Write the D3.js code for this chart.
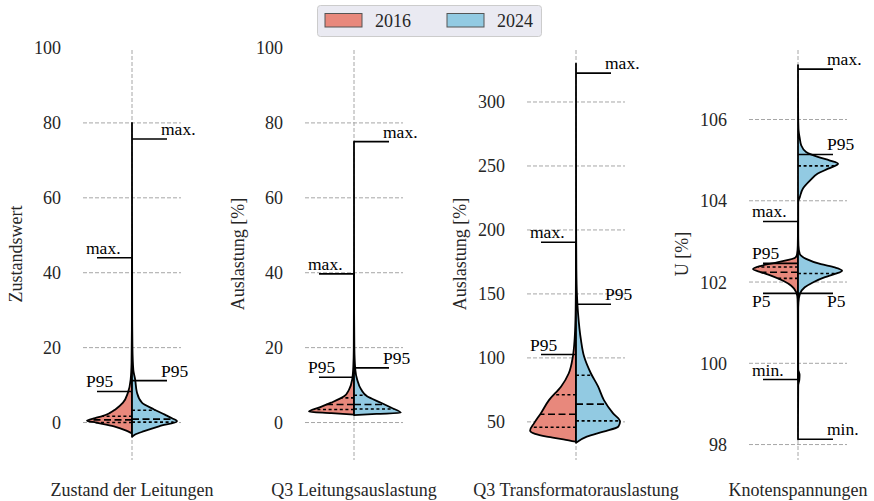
<!DOCTYPE html>
<html><head><meta charset="utf-8">
<script src="https://cdn.jsdelivr.net/npm/d3@7"></script>
<style>
body{margin:0;background:#fff}
svg{display:block}
text{font-family:"Liberation Serif","Times New Roman",serif}
</style>
</head><body>
<svg id="chart" width="874" height="501"></svg>
<script>
// ---------------- data ----------------
const categories = ["Zustand der Leitungen", "Q3 Leitungsauslastung", "Q3 Transformatorauslastung", "Knotenspannungen"];
const yLabels = ["Zustandswert", "Auslastung [%]", "Auslastung [%]", "U [%]"];
const years = ["2016", "2024"];
const yTicks = [[0,20,40,60,80,100],[0,20,40,60,80,100],[50,100,150,200,250,300],[98,100,102,104,106]];
const gridTicks = [[0,20,40,60,80],[0,20,40,60,80],[50,100,150,200,250,300],[98,100,102,104,106]];
const yDomains = [[-10,100],[-10,100],[20.2,342.2],[97.62,107.76]];

// density profiles: [value, relative density]
const density2016 = [
  [[44,0],[25,0.003],[16,0.01],[11.5,0.03],[8,0.09],[5.3,0.2],[3.5,0.37],[2.5,0.5],[1.7,0.66],[1.2,0.82],[0.5,1.0],[0.0,0.8],[-1.0,0.4],[-2.3,0.1],[-2.9,0]],
  [[39.7,0],[20,0.005],[15,0.015],[11.5,0.04],[8.8,0.11],[7,0.22],[5.3,0.51],[4,0.78],[2.9,1.0],[2.5,0.5],[2.1,0]],
  [[190.4,0],[150,0.004],[130,0.012],[115,0.03],[101,0.07],[88,0.16],[77.7,0.33],[67,0.6],[56.8,0.78],[49,0.93],[43.2,1.02],[40.6,0.91],[38.5,0.65],[36.4,0.28],[34.5,0]],
  [[103.49,0],[102.9,0.005],[102.69,0.02],[102.6,0.06],[102.49,0.44],[102.40,0.82],[102.32,1.0],[102.24,0.82],[102.16,0.6],[102.03,0.33],[101.91,0.15],[101.75,0.04],[101.58,0.01],[101.3,0.005],[99.6,0]]
];
const density2024 = [
  [[80,0],[30,0.004],[20,0.01],[14,0.03],[11.5,0.07],[8,0.11],[5.3,0.22],[3.5,0.49],[2.1,0.73],[1.2,0.88],[0.35,1.0],[-1,0.6],[-2.3,0.27],[-3.2,0.07],[-3.8,0]],
  [[75,0],[30,0.002],[20,0.008],[14,0.03],[11.5,0.07],[8.8,0.16],[7,0.29],[5.3,0.6],[4,0.82],[2.6,1.04],[2.3,0.5],[2.0,0]],
  [[330,0],[200,0.003],[170,0.008],[150,0.02],[135,0.045],[114,0.11],[101,0.18],[88,0.33],[77.7,0.49],[67,0.62],[56.8,0.82],[50.2,0.98],[46.3,0.94],[42.4,0.61],[38.5,0.24],[33.7,0]],
  [[107.34,0],[106.2,0.003],[105.78,0.01],[105.53,0.04],[105.37,0.07],[105.2,0.18],[105.08,0.44],[104.99,0.71],[104.91,0.89],[104.79,0.67],[104.67,0.44],[104.5,0.27],[104.3,0.11],[104.09,0.04],[103.97,0.005],[103.2,0.005],[102.9,0.01],[102.69,0.04],[102.57,0.18],[102.44,0.51],[102.36,0.82],[102.28,0.98],[102.2,0.82],[102.12,0.6],[101.99,0.33],[101.87,0.15],[101.7,0.04],[101.5,0.01],[101.3,0.005],[99.85,0.005],[99.72,0.035],[99.6,0.03],[99.45,0.005],[98.13,0]]
];
// quartiles [Q1, median, Q3]
const quartiles2016 = [[0.0,0.7,1.7],[3.5,4.8,6.6],[45.8,56,71.2],[102.09,102.24,102.37]];
const quartiles2024 = [[0.1,0.9,3.3],[3.6,4.8,7.3],[50.8,63.9,86.4],[102.21,103.5,104.86]];
// annotations [label, value]
const marks2016 = [
  [["max.",44],["P95",8.3]],
  [["max.",39.7],["P95",12.1]],
  [["max.",190.4],["P95",102.6]],
  [["max.",103.49],["P95",102.46],["P5",101.72],["min.",99.6]]
];
const marks2024 = [
  [["max.",75.7],["P95",11.2]],
  [["max.",75],["P95",14.6]],
  [["max.",322.6],["P95",141.9]],
  [["max.",107.24],["P95",105.14],["P5",101.72],["min.",98.13]]
];
const colors = ["#E8887C", "#92CAE2"];

// ---------------- drawing ----------------
const svg = d3.select("#chart");
const yTop = 48, yBottom = 460, halfAxis = 49;
const xCenter = d3.scalePoint().domain(categories).range([132, 798]);
const wScale = d3.scaleLinear().domain([0, 1]).range([0, 45]);
const gridColor = "#a6a6a6";
const textColor = "#262626";

function densAt(profile, v) {
  const p = profile.slice().sort((a, b) => a[0] - b[0]);
  if (v <= p[0][0] || v >= p[p.length - 1][0]) return 0;
  for (let i = 1; i < p.length; i++) {
    if (v <= p[i][0]) {
      const t = (v - p[i - 1][0]) / (p[i][0] - p[i - 1][0]);
      return p[i - 1][1] + t * (p[i][1] - p[i - 1][1]);
    }
  }
  return 0;
}

categories.forEach((cat, i) => {
  const cx = xCenter(cat);
  const x0 = cx - halfAxis, x1 = cx + halfAxis;
  const y = d3.scaleLinear().domain(yDomains[i]).range([yBottom, yTop]);
  const g = svg.append("g");

  g.selectAll("line.hgrid").data(gridTicks[i]).join("line")
    .attr("x1", x0).attr("x2", x1)
    .attr("y1", d => y(d)).attr("y2", d => y(d))
    .attr("stroke", gridColor).attr("stroke-width", 1).attr("stroke-dasharray", "4,2");
  g.append("line").attr("x1", cx).attr("x2", cx).attr("y1", yTop + 2).attr("y2", yBottom)
    .attr("stroke", gridColor).attr("stroke-width", 1).attr("stroke-dasharray", "4,2");

  g.selectAll("text.tick").data(yTicks[i]).join("text")
    .attr("x", x0 - 22).attr("y", d => y(d)).attr("dy", "0.36em")
    .attr("text-anchor", "end").attr("font-size", 18).attr("fill", textColor)
    .text(d => d);

  g.append("text")
    .attr("transform", `translate(${x0 - 67},${(yTop + yBottom) / 2}) rotate(-90)`)
    .attr("text-anchor", "middle").attr("dy", "0.35em")
    .attr("font-size", 18).attr("fill", textColor).text(yLabels[i]);

  g.append("text").attr("x", cx).attr("y", 496).attr("text-anchor", "middle")
    .attr("font-size", 18).attr("fill", textColor).text(cat);

  const sets = [
    {prof: density2016[i], q: quartiles2016[i], marks: marks2016[i], sign: -1, color: colors[0]},
    {prof: density2024[i], q: quartiles2024[i], marks: marks2024[i], sign: 1, color: colors[1]}
  ];
  sets.forEach(s => {
    const pts = s.prof.slice().sort((a, b) => b[0] - a[0]);
    const area = d3.area().curve(d3.curveMonotoneY)
      .y(d => y(d[0])).x0(cx).x1(d => cx + s.sign * wScale(d[1]));
    g.append("path").attr("d", area(pts))
      .attr("fill", s.color).attr("stroke", "#000").attr("stroke-width", 1.8)
      .attr("stroke-linejoin", "round");
  });
  sets.forEach(s => {
    s.q.forEach((qv, k) => {
      const w = wScale(densAt(s.prof, qv));
      g.append("line").attr("x1", cx).attr("x2", cx + s.sign * w)
        .attr("y1", y(qv)).attr("y2", y(qv))
        .attr("stroke", "#000").attr("stroke-width", 1.6)
        .attr("stroke-dasharray", k === 1 ? "7,3.5" : "3,2.6");
    });
  });
  sets.forEach(s => {
    s.marks.forEach(([lab, v]) => {
      const yy = y(v);
      const xa = cx + s.sign * 35;
      g.append("line").attr("x1", cx).attr("x2", xa).attr("y1", yy).attr("y2", yy)
        .attr("stroke", "#000").attr("stroke-width", 1.6);
      const below = lab === "P5";
      g.append("text")
        .attr("x", s.sign < 0 ? xa - 11 : xa - 6)
        .attr("y", below ? yy + 14 : yy - 4)
        .attr("font-size", 17.5).attr("fill", "#000").text(lab);
    });
  });
});

const leg = svg.append("g");
leg.append("rect").attr("x", 317.5).attr("y", 5.5).attr("width", 224).attr("height", 31).attr("rx", 3)
  .attr("fill", "#EAEAF2").attr("stroke", "#cccccc").attr("stroke-width", 1);
const legX = d3.scaleOrdinal().domain(years).range([325, 447]);
years.forEach((yr, k) => {
  leg.append("rect").attr("x", legX(yr)).attr("y", 13.5).attr("width", 37).attr("height", 13.5)
    .attr("fill", colors[k]).attr("stroke", "#555").attr("stroke-width", 1);
  leg.append("text").attr("x", legX(yr) + 50).attr("y", 26.5)
    .attr("font-size", 18).attr("fill", textColor).text(yr);
});
</script>
</body></html>
